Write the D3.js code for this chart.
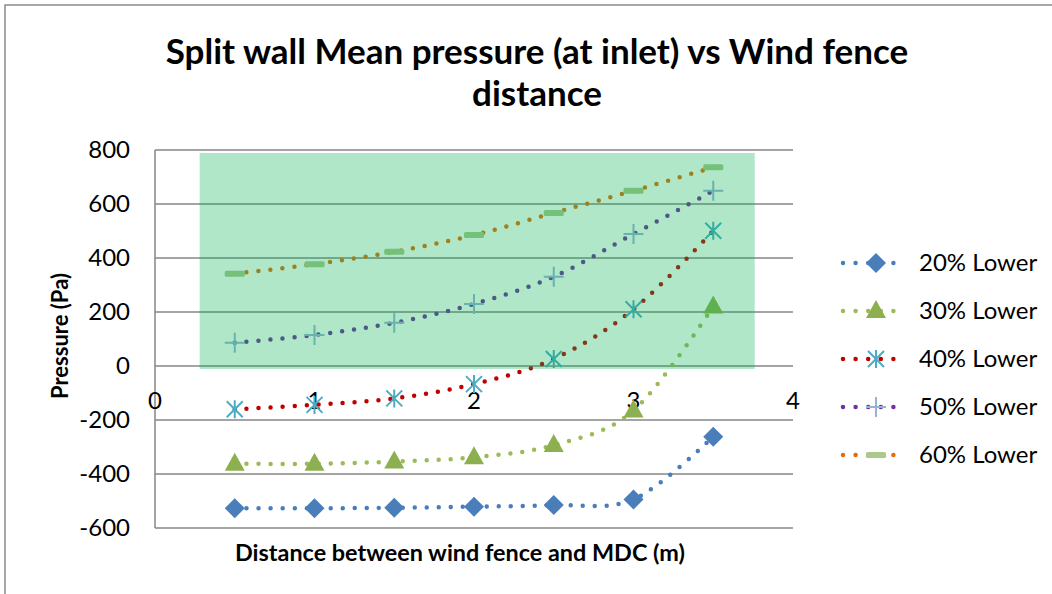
<!DOCTYPE html>
<html>
<head>
<meta charset="utf-8">
<script src="https://cdn.jsdelivr.net/npm/d3@7"></script>
<style>
  body { margin: 0; background: #fff; }
  text { font-family: Lato, "Open Sans", sans-serif; fill: #000; }
</style>
</head>
<body>
<div id="chart"></div>
<script>
// distances (m)
var distances = [0.5, 1, 1.5, 2, 2.5, 3, 3.5];
// mean pressure (Pa) per wind fence setting
var lower20 = [-527, -527, -525, -521, -515, -494, -262];
var lower30 = [-362, -362, -354, -338, -293, -165, 220];
var lower40 = [-160, -144, -120, -67, 26, 210, 501];
var lower50 = [86, 115, 160, 230, 331, 489, 649];
var lower60 = [342, 377, 423, 485, 567, 649, 736];
var seriesNames = ["20% Lower", "30% Lower", "40% Lower", "50% Lower", "60% Lower"];
var yTicks = [-600, -400, -200, 0, 200, 400, 600, 800];
var xTicks = [0, 1, 2, 3, 4];
// highlighted band (data units)
var bandX = [0.28, 3.76], bandY = [-11, 789];

var W = 1052, H = 594;
var svg = d3.select("#chart").append("svg")
    .attr("width", W)
    .attr("height", H);

// outer frame
svg.append("rect")
    .attr("x", 5).attr("y", 5)
    .attr("width", 1100).attr("height", 700)
    .attr("fill", "none")
    .attr("stroke", "#8c8c8c")
    .attr("stroke-width", 1.5);

var x = d3.scaleLinear().domain([0, 4]).range([155, 793]);
var y = d3.scaleLinear().domain([-600, 800]).range([528, 150]);

// title
svg.append("text").attr("x", 537).attr("y", 64)
    .attr("text-anchor", "middle").attr("font-size", 35).attr("font-weight", "bold")
    .text("Split wall Mean pressure (at inlet) vs Wind fence");
svg.append("text").attr("x", 537).attr("y", 106)
    .attr("text-anchor", "middle").attr("font-size", 35).attr("font-weight", "bold")
    .text("distance");

// gridlines
svg.selectAll(".grid")
    .data(yTicks)
    .enter().append("line")
    .attr("x1", x(0)).attr("x2", x(4))
    .attr("y1", function(d) { return y(d); })
    .attr("y2", function(d) { return y(d); })
    .attr("stroke", "#868686")
    .attr("stroke-width", 1.5);

svg.append("line")
    .attr("x1", x(0)).attr("x2", x(0))
    .attr("y1", y(800)).attr("y2", y(-600))
    .attr("stroke", "#868686").attr("stroke-width", 1.5);

// y tick labels
svg.selectAll(".ylab")
    .data(yTicks)
    .enter().append("text")
    .attr("x", 130)
    .attr("y", function(d) { return y(d); })
    .attr("dy", ".35em")
    .attr("text-anchor", "end")
    .attr("font-size", 24)
    .text(function(d) { return d; });

// x tick labels (axis crosses at 0)
svg.selectAll(".xlab")
    .data(xTicks)
    .enter().append("text")
    .attr("x", function(d) { return x(d); })
    .attr("y", y(0) + 43)
    .attr("text-anchor", "middle")
    .attr("font-size", 24)
    .text(function(d) { return d; });

// axis titles
svg.append("text")
    .attr("transform", "translate(68," + 336 + ") rotate(-90)")
    .attr("text-anchor", "middle")
    .attr("font-size", 22).attr("font-weight", "bold")
    .text("Pressure (Pa)");
svg.append("text")
    .attr("x", 460).attr("y", 561)
    .attr("text-anchor", "middle")
    .attr("font-size", 23.4).attr("font-weight", "bold")
    .text("Distance between wind fence and MDC (m)");

// marker shapes
function drawMarker(g, type, cx, cy, color) {
    if (type == "diamond") {
        g.append("path")
            .attr("d", "M" + cx + "," + (cy - 10) + "L" + (cx + 10) + "," + cy + "L" + cx + "," + (cy + 10) + "L" + (cx - 10) + "," + cy + "Z")
            .attr("fill", color);
    } else if (type == "triangle") {
        g.append("path")
            .attr("d", "M" + cx + "," + (cy - 11) + "L" + (cx + 10) + "," + (cy + 7) + "L" + (cx - 10) + "," + (cy + 7) + "Z")
            .attr("fill", color);
    } else if (type == "asterisk") {
        g.append("path")
            .attr("d", "M" + (cx - 8) + "," + (cy - 8) + "L" + (cx + 8) + "," + (cy + 8) +
                "M" + (cx + 8) + "," + (cy - 8) + "L" + (cx - 8) + "," + (cy + 8) +
                "M" + cx + "," + (cy - 9) + "L" + cx + "," + (cy + 9))
            .attr("stroke", color).attr("stroke-width", 2).attr("fill", "none");
    } else if (type == "plus") {
        g.append("path")
            .attr("d", "M" + (cx - 10) + "," + cy + "L" + (cx + 10) + "," + cy +
                "M" + cx + "," + (cy - 10) + "L" + cx + "," + (cy + 10))
            .attr("stroke", color).attr("stroke-width", 2).attr("fill", "none");
    } else if (type == "dash") {
        g.append("rect")
            .attr("x", cx - 10).attr("y", cy - 3)
            .attr("width", 20).attr("height", 6)
            .attr("rx", 1.5)
            .attr("fill", color);
    }
}

var allSeries = [lower20, lower30, lower40, lower50, lower60];
var lineColors = ["#4a7ebb", "#9bbb59", "#c00000", "#7030a0", "#e46c0a"];
var markerTypes = ["diamond", "triangle", "asterisk", "plus", "dash"];
var markerColors = ["#4a7ebb", "#8cb04f", "#4bacc6", "#95b3d7", "#abc98c"];

var line = d3.line()
    .x(function(d) { return x(d[0]); })
    .y(function(d) { return y(d[1]); })
    .curve(d3.curveCardinal.tension(0));

allSeries.forEach(function(vals, s) {
    var pts = distances.map(function(d, i) { return [d, vals[i]]; });
    var g = svg.append("g");
    g.append("path")
        .attr("d", line(pts))
        .attr("fill", "none")
        .attr("stroke", lineColors[s])
        .attr("stroke-width", 4.5)
        .attr("stroke-linecap", "round")
        .attr("stroke-dasharray", "0 12");
    pts.forEach(function(p) {
        drawMarker(g, markerTypes[s], x(p[0]), y(p[1]), markerColors[s]);
    });
});

// translucent green band over the plot
svg.append("rect")
    .attr("x", x(bandX[0]))
    .attr("y", y(bandY[1]))
    .attr("width", x(bandX[1]) - x(bandX[0]))
    .attr("height", y(bandY[0]) - y(bandY[1]))
    .attr("fill", "#00b050")
    .attr("fill-opacity", 0.31);

// legend
var legend = svg.selectAll(".legend")
    .data(seriesNames)
    .enter().append("g");

legend.each(function(name, i) {
    var g = d3.select(this);
    var ly = 263 + i * 48;
    g.append("line")
        .attr("x1", 843).attr("x2", 906)
        .attr("y1", ly).attr("y2", ly)
        .attr("stroke", lineColors[i])
        .attr("stroke-width", 4.5)
        .attr("stroke-linecap", "round")
        .attr("stroke-dasharray", "0 12.6");
    drawMarker(g, markerTypes[i], 876, ly, markerColors[i]);
    g.append("text")
        .attr("x", 919).attr("y", ly)
        .attr("dy", ".35em")
        .attr("font-size", 24)
        .text(name);
});
</script>
</body>
</html>
